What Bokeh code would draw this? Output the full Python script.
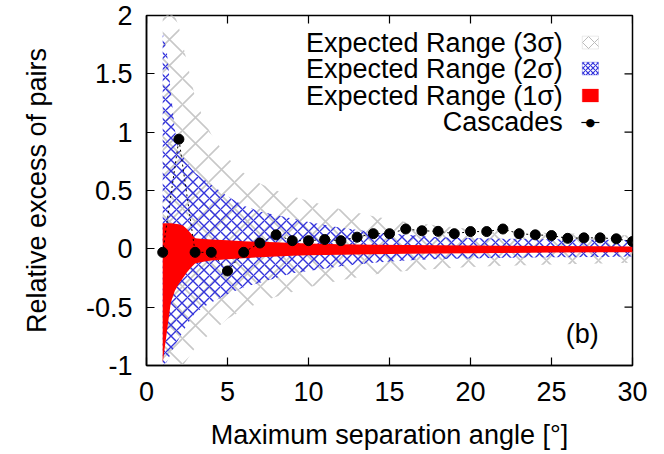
from bokeh.plotting import figure
from bokeh.models import BoxAnnotation, Label, Range1d, FixedTicker, CustomJSTickFormatter
from bokeh.embed import file_html
from bokeh.resources import INLINE

# ---- data ----
cascade_x = list(range(1, 31))
cascade_y = [-0.03, 0.94, -0.03, -0.03, -0.19, -0.03, 0.05, 0.12, 0.07, 0.07,
             0.08, 0.07, 0.10, 0.13, 0.13, 0.17, 0.155, 0.15, 0.13, 0.148,
             0.148, 0.17, 0.13, 0.12, 0.114, 0.09, 0.094, 0.094, 0.086, 0.063]

band_x = [1.0, 1.25, 1.5, 1.75, 2.0, 2.25, 2.5, 2.75, 3.0, 3.5, 4, 5, 6, 7, 8, 9,
          10, 12, 14, 16, 18, 20, 22, 25, 28, 30]
sigma1_hi = [0.22, 0.22, 0.22, 0.215, 0.21, 0.20, 0.17, 0.13, 0.09, 0.085, 0.08,
             0.074, 0.066, 0.06, 0.056, 0.05, 0.046, 0.04, 0.036, 0.032, 0.03,
             0.028, 0.026, 0.024, 0.022, 0.02]
sigma1_lo = [-0.98, -0.72, -0.46, -0.36, -0.3, -0.25, -0.2, -0.16, -0.125, -0.11,
             -0.1, -0.09, -0.08, -0.072, -0.066, -0.06, -0.056, -0.05, -0.046,
             -0.042, -0.04, -0.037, -0.035, -0.032, -0.03, -0.03]
sigma2_hi = [1.85, 1.7, 1.35, 1.02, 0.85, 0.79, 0.74, 0.69, 0.65, 0.6, 0.55, 0.45,
             0.37, 0.32, 0.29, 0.26, 0.23, 0.18, 0.145, 0.12, 0.1, 0.092, 0.087,
             0.082, 0.078, 0.076]
sigma2_lo = [-1.0, -0.97, -0.9, -0.83, -0.77, -0.71, -0.65, -0.6, -0.55, -0.5,
             -0.46, -0.39, -0.33, -0.29, -0.25, -0.21, -0.19, -0.15, -0.12, -0.1,
             -0.088, -0.082, -0.077, -0.072, -0.07, -0.066]
sigma3_hi = [2.3, 2.2, 2.1, 2.0, 1.9, 1.75, 1.6, 1.45, 1.3, 1.12, 0.98, 0.78, 0.65,
             0.56, 0.5, 0.45, 0.41, 0.34, 0.28, 0.23, 0.2, 0.17, 0.15, 0.135, 0.125,
             0.115]
sigma3_lo = [-1.1, -1.1, -1.1, -1.08, -1.05, -1.0, -0.95, -0.9, -0.85, -0.78, -0.72,
             -0.6, -0.52, -0.46, -0.41, -0.37, -0.33, -0.27, -0.22, -0.19, -0.17,
             -0.155, -0.145, -0.135, -0.125, -0.12]

x_ticks = [0, 5, 10, 15, 20, 25, 30]
y_ticks = [-1, -0.5, 0, 0.5, 1, 1.5, 2]
legend_labels = ["Expected Range (3σ)", "Expected Range (2σ)",
                 "Expected Range (1σ)", "Cascades"]

FONT = "Liberation Sans"
FS = "27px"
X0, X1, Y0, Y1 = 0, 30, -1, 2

p = figure(width=664, height=454, x_range=Range1d(X0, X1), y_range=Range1d(Y0, Y1),
           output_backend="svg", toolbar_location=None,
           min_border_left=146, min_border_right=32, min_border_top=15,
           min_border_bottom=89, x_axis_label="Maximum separation angle [°]",
           y_axis_label="Relative excess of pairs")
p.xgrid.visible = False
p.ygrid.visible = False
p.outline_line_color = "black"
p.outline_line_width = 1.5
p.background_fill_color = "white"
p.border_fill_color = "white"

fmt = CustomJSTickFormatter(code="return String(tick);")
for ax, ticks in ((p.xaxis[0], x_ticks), (p.yaxis[0], y_ticks)):
    ax.ticker = FixedTicker(ticks=ticks)
    ax.formatter = fmt
    ax.major_tick_in = 8
    ax.major_tick_out = 0
    ax.minor_tick_line_color = None
    ax.axis_line_width = 1.5
    ax.major_tick_line_width = 1.2
    ax.major_label_text_font = FONT
    ax.major_label_text_font_size = FS
    ax.major_label_text_color = "black"
    ax.axis_label_text_font = FONT
    ax.axis_label_text_font_size = FS
    ax.axis_label_text_font_style = "normal"
    ax.axis_label_text_color = "black"
p.yaxis[0].major_label_standoff = 14
p.yaxis[0].axis_label_standoff = 31
p.xaxis[0].major_label_standoff = 16
p.xaxis[0].axis_label_standoff = 16

# mirrored ticks on top and right
tick_dx = 8 / 16.2
tick_dy = 8 / 116.7
p.segment(x0=x_ticks, y0=[Y1] * len(x_ticks), x1=x_ticks,
          y1=[Y1 - tick_dy] * len(x_ticks), line_color="black", line_width=1.2)
p.segment(x0=[X1] * len(y_ticks), y0=y_ticks, x1=[X1 - tick_dx] * len(y_ticks),
          y1=y_ticks, line_color="black", line_width=1.2)

# bands
p.varea(x=band_x, y1=sigma3_lo, y2=sigma3_hi, fill_alpha=0,
        hatch_pattern="diagonal_cross", hatch_color="#c8c8c8", hatch_scale=26,
        hatch_weight=1.6)
p.varea(x=band_x, y1=sigma2_lo, y2=sigma2_hi, fill_alpha=0,
        hatch_pattern="diagonal_cross", hatch_color="#3434dc", hatch_scale=11,
        hatch_weight=1.4)
p.varea(x=band_x, y1=sigma1_lo, y2=sigma1_hi, fill_color="#ff0000")

# cascades
p.line(cascade_x, cascade_y, line_color="black", line_width=1, line_dash="2 3")
p.scatter(cascade_x, cascade_y, size=10, color="black")

# legend (custom, glyphs on the right)
ly = [1.768, 1.545, 1.314, 1.083]
for lab, yy in zip(legend_labels, ly):
    p.add_layout(Label(x=25.7, y=yy, text=lab, text_align="right",
                       text_baseline="middle", text_font=FONT, text_font_size=FS,
                       text_color="black"))
p.add_layout(BoxAnnotation(left=26.9, right=27.9, bottom=ly[0] - 0.055, top=ly[0] + 0.055,
                           fill_alpha=0, line_color="#bbbbbb", line_width=1,
                           hatch_pattern="diagonal_cross", hatch_color="#bbbbbb",
                           hatch_scale=12, hatch_weight=1))
p.add_layout(BoxAnnotation(left=26.9, right=27.9, bottom=ly[1] - 0.055, top=ly[1] + 0.055,
                           fill_alpha=0, line_color="#3434dc", line_width=1,
                           hatch_pattern="diagonal_cross", hatch_color="#3434dc",
                           hatch_scale=5, hatch_weight=1.2))
p.add_layout(BoxAnnotation(left=26.9, right=27.9, bottom=ly[2] - 0.055, top=ly[2] + 0.055,
                           fill_color="#ff0000", fill_alpha=1, line_color="#ff0000"))
p.add_layout(BoxAnnotation(left=26.85, right=27.95, bottom=ly[3] - 0.005, top=ly[3] + 0.005,
                           fill_color="black", fill_alpha=1, line_color="black",
                           line_width=0.5))
p.add_layout(Label(x=27.4, y=ly[3], text="●", text_align="center",
                   text_baseline="middle", text_font="DejaVu Sans",
                   text_font_size="11px", text_color="black"))

p.add_layout(Label(x=26.9, y=-0.726, text="(b)", text_align="center",
                   text_baseline="middle", text_font=FONT, text_font_size=FS,
                   text_color="black"))

open("out.html", "w").write(file_html(p, INLINE))
